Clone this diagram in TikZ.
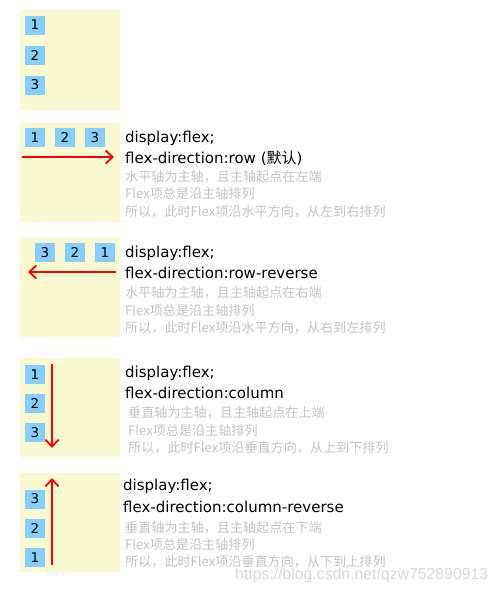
\documentclass[tikz,border=0pt]{standalone}
\usepackage{fontspec}
\setmainfont{DejaVu Sans}
\newfontfamily\cjk{Noto Sans CJK SC}
\newfontfamily\wm{Liberation Sans}
\usetikzlibrary{arrows.meta}
\definecolor{panelbg}{HTML}{FAFAD2}
\definecolor{itembg}{HTML}{87CEFA}
\definecolor{note}{HTML}{C4C4C4}
\begin{document}
\begin{tikzpicture}[x=1pt,y=-1pt,
  panel/.style={fill=panelbg,draw=none},
  item/.style={fill=itembg,draw=none,minimum width=20pt,minimum height=19pt,inner sep=0pt,font=\fontsize{13.5}{13.5}\selectfont},
  code/.style={anchor=west,inner sep=0pt,font=\fontsize{15}{15}\selectfont,text=black},
  notetxt/.style={anchor=west,inner sep=0pt,font=\cjk\fontsize{13.1}{13.1}\selectfont,text=note},
  flow/.style={draw=red,line width=1.8pt,-{Straight Barb[length=7pt,width=13pt,line width=1.8pt]}}]
\useasboundingbox (0,0) rectangle (498,592);
% panel 1
\fill[panel] (20,10) rectangle (120,110);
\node[item] (a1) at (35,25) {1};
\node[item] (a2) at (35,55) {2};
\node[item] (a3) at (35,85) {3};
% panel 2
\fill[panel] (20,123) rectangle (120,222);
\node[item] (b1) at (35,137.5) {1};
\node[item] (b2) at (65,137.5) {2};
\node[item] (b3) at (95,137.5) {3};
\coordinate (b0) at (22,157);
\coordinate (bt) at (114,157);
\draw[flow] (b0) -- (bt);
\node[code] (bl1) at (125,138) {display:flex;};
\node[code] (bl2) at (125,158) {flex-direction:row ({\cjk 默认})};
\node[notetxt] (bn1) at (125,177) {水平轴为主轴，且主轴起点在左端};
\node[notetxt] (bn2) at (125,194) {Flex项总是沿主轴排列};
\node[notetxt] (bn3) at (125,212) {所以，此时Flex项沿水平方向，从左到右排列};
% panel 3
\fill[panel] (20,238) rectangle (120,337);
\node[item] (c3) at (45,252.5) {3};
\node[item] (c2) at (75,252.5) {2};
\node[item] (c1) at (105,252.5) {1};
\coordinate (c0) at (116,272);
\coordinate (ct) at (28,272);
\draw[flow] (c0) -- (ct);
\node[code] (cl1) at (125,253) {display:flex;};
\node[code] (cl2) at (125,273) {flex-direction:row-reverse};
\node[notetxt] (cn1) at (125,293) {水平轴为主轴，且主轴起点在右端};
\node[notetxt] (cn2) at (125,311) {Flex项总是沿主轴排列};
\node[notetxt] (cn3) at (125,328) {所以，此时Flex项沿水平方向，从右到左排列};
% panel 4
\fill[panel] (20,358) rectangle (120,457);
\node[item] (d1) at (35,374.5) {1};
\node[item] (d2) at (35,403) {2};
\node[item] (d3) at (35,432.5) {3};
\coordinate (d0) at (52,364);
\coordinate (dt) at (52,448);
\draw[flow] (d0) -- (dt);
\node[code] (dl1) at (125,373) {display:flex;};
\node[code] (dl2) at (125,393) {flex-direction:column};
\node[notetxt] (dn1) at (128,413) {垂直轴为主轴，且主轴起点在上端};
\node[notetxt] (dn2) at (128,431) {Flex项总是沿主轴排列};
\node[notetxt] (dn3) at (128,448) {所以，此时Flex项沿垂直方向，从上到下排列};
% panel 5
\fill[panel] (20,473) rectangle (120,572);
\node[item] (e3) at (35,499) {3};
\node[item] (e2) at (35,528) {2};
\node[item] (e1) at (35,557.5) {1};
\coordinate (e0) at (52,565);
\coordinate (et) at (52,478);
\draw[flow] (e0) -- (et);
\node[code] (el1) at (123,486) {display:flex;};
\node[code] (el2) at (123,507) {flex-direction:column-reverse};
\node[notetxt] (en1) at (125,528) {垂直轴为主轴，且主轴起点在下端};
\node[notetxt] (en2) at (125,545) {Flex项总是沿主轴排列};
\node[notetxt] (en3) at (125,562) {所以，此时Flex项沿垂直方向，从下到上排列};
\node[anchor=west,inner sep=0pt,font=\wm\fontsize{15.8}{16}\selectfont,text=black!15] (wmk) at (235,575) {https://blog.csdn.net/qzw752890913};
\end{tikzpicture}
\end{document}
